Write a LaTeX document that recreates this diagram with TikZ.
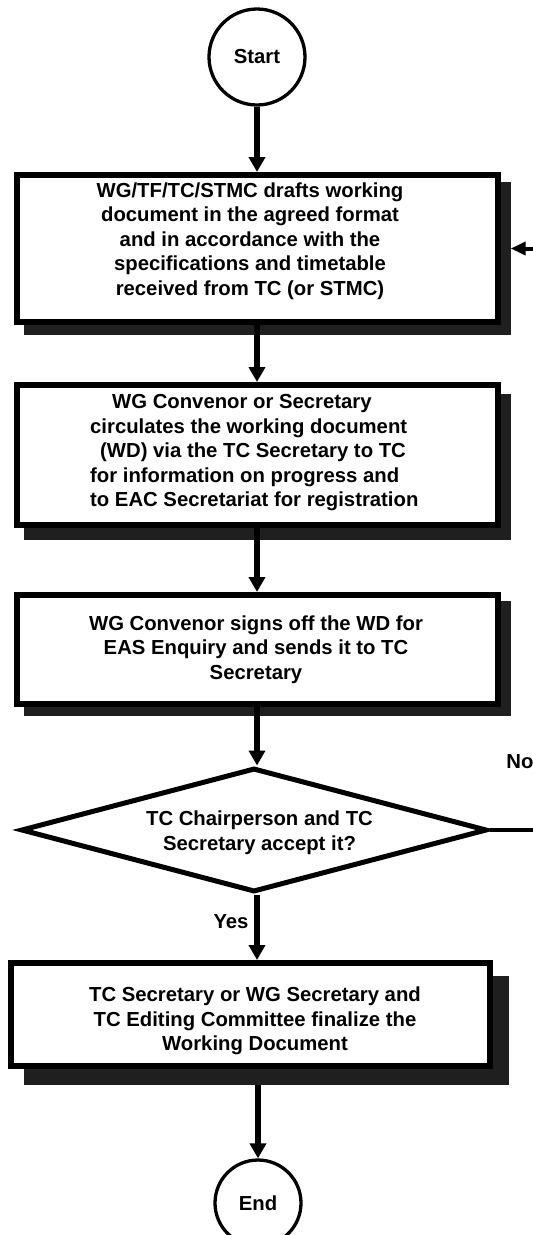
\documentclass[tikz,border=0pt]{standalone}
\usepackage{fontspec}
\setmainfont{Liberation Sans}
\usetikzlibrary{shapes.geometric,arrows.meta}

\begin{document}
\begin{tikzpicture}[x=1pt,y=-1pt,
  every node/.style={font=\bfseries\fontsize{20.3}{24.5}\selectfont},
  procbox/.style={draw, line width=6pt, fill=white, inner sep=0pt},
  shadowbox/.style={fill=black!88, inner sep=0pt},
  term/.style={circle, draw, line width=3.3pt, fill=white, inner sep=0pt},
  decision/.style={diamond, draw, line width=5pt, fill=white, inner sep=0pt,
                   minimum width=466pt, minimum height=124pt},
  txt/.style={align=center, inner sep=0pt},
  flow/.style={line width=5.5pt, -{Triangle[width=16pt,length=15pt]}},
  back/.style={line width=4pt, -{Triangle[width=13pt,length=15pt]}},
]
\useasboundingbox (0,0) rectangle (533,1235);
\clip (0,0) rectangle (533,1235);

% terminals
\node[term, minimum size=96pt] (start) at (257,57) {Start};
\node[term, minimum size=86pt] (end) at (258,1203) {End};

% drop shadows behind the process boxes
\node[shadowbox, minimum width=487pt, minimum height=153pt] (s1) at (267,258.5) {};
\node[shadowbox, minimum width=487pt, minimum height=146pt] (s2) at (267,467) {};
\node[shadowbox, minimum width=487pt, minimum height=115pt] (s3) at (267,658.5) {};
\node[shadowbox, minimum width=485pt, minimum height=109pt] (s5) at (266.5,1030.5) {};

% process boxes
\node[procbox, minimum width=481pt, minimum height=147pt] (b1) at (257,248.5) {};
\node[procbox, minimum width=481pt, minimum height=140pt] (b2) at (257,455) {};
\node[procbox, minimum width=481pt, minimum height=109pt] (b3) at (257,649.5) {};
\node[procbox, minimum width=479pt, minimum height=103pt] (b5) at (250.5,1014.5) {};

% decision
\node[decision] (dec) at (254,830) {};

% box texts
\node[txt] (t1) at (250,241) {WG/TF/TC/STMC drafts working\\document in the agreed format\\and in accordance with the\\specifications and timetable\\received from TC (or STMC)};
\node[txt, align=left, anchor=west] (t2) at (90,452.6) {\hspace*{22pt}WG Convenor or Secretary\\circulates the working document\\\hspace*{10pt}(WD) via the TC Secretary to TC\\for information on progress and\\to EAC Secretariat for registration};
\node[txt] (t3) at (256,649.6) {WG Convenor signs off the WD for\\EAS Enquiry and sends it to TC\\Secretary};
\node[txt] (t4) at (259.5,832.8) {TC Chairperson and TC\\Secretary accept it?};
\node[txt] (t5) at (255,1021) {TC Secretary or WG Secretary and\\TC Editing Committee finalize the\\Working Document};

% branch labels
\node (yes) at (231,922) {Yes};
\node (no) at (520,762) {No};

% connectors
\draw[flow] (start.south) -- (start.south |- b1.north);
\draw[flow] (b1.south) -- (b2.north);
\draw[flow] (b2.south) -- (b3.north);
\draw[flow] (b3.south) -- (b3.south |- dec.north);
\draw[flow] (b3.south |- dec.south) -- (b3.south |- b5.north);
\draw[flow] (end.north |- s5.south) -- (end.north);
\draw[back] (dec.east) -- ++(60,0) |- (b1.east -| s1.east);
\end{tikzpicture}
\end{document}
